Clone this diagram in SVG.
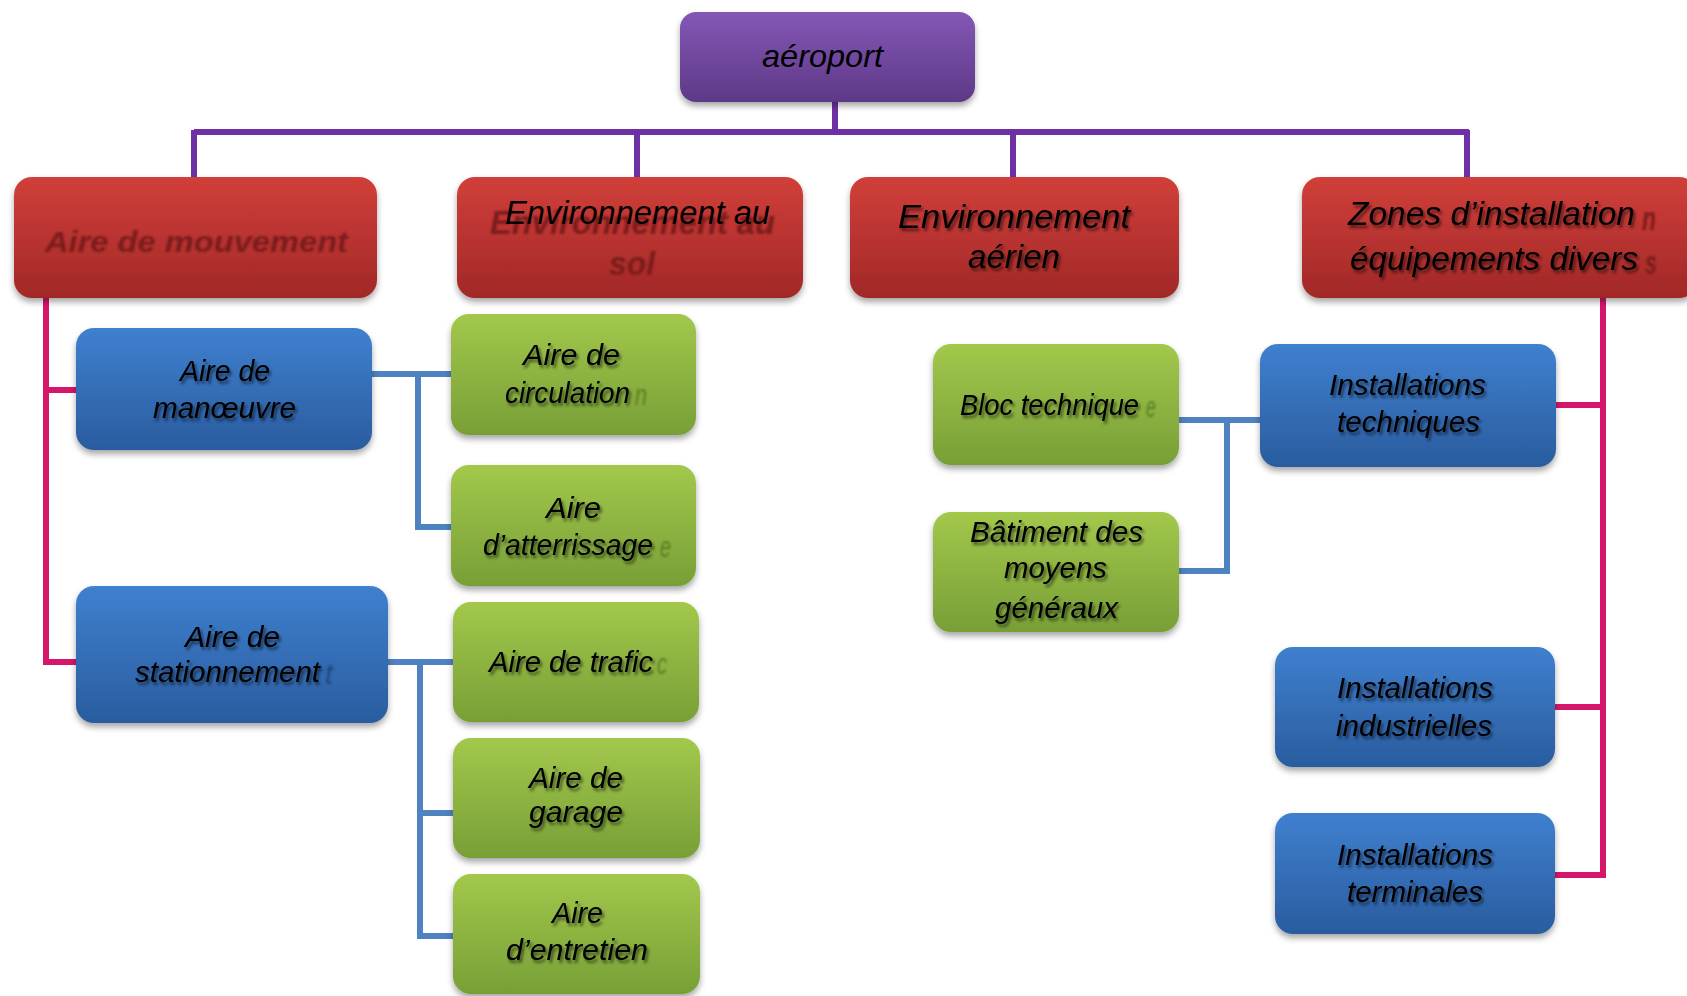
<svg xmlns="http://www.w3.org/2000/svg" width="1687" height="996" viewBox="0 0 1687 996">
<defs>
<linearGradient id="gPurple" x1="0" y1="0" x2="0" y2="1"><stop offset="0" stop-color="#8358b4"/><stop offset="1" stop-color="#5d3888"/></linearGradient>
<linearGradient id="gRed" x1="0" y1="0" x2="0" y2="1"><stop offset="0" stop-color="#d13f3a"/><stop offset="1" stop-color="#a12827"/></linearGradient>
<linearGradient id="gBlue" x1="0" y1="0" x2="0" y2="1"><stop offset="0" stop-color="#3f80cf"/><stop offset="1" stop-color="#2a5c9f"/></linearGradient>
<linearGradient id="gGreen" x1="0" y1="0" x2="0" y2="1"><stop offset="0" stop-color="#a2c84c"/><stop offset="1" stop-color="#789f36"/></linearGradient>
<filter id="boxShadow" x="-10%" y="-10%" width="120%" height="130%"><feDropShadow dx="0" dy="4" stdDeviation="3" flood-color="#000" flood-opacity="0.35"/></filter>
<filter id="txtShadow" x="-10%" y="-30%" width="120%" height="160%"><feDropShadow dx="2" dy="3" stdDeviation="1.5" flood-color="#000" flood-opacity="0.55"/></filter>
<filter id="ghostBlur" x="-20%" y="-30%" width="140%" height="160%"><feGaussianBlur stdDeviation="1.3"/></filter>
<style>
.box{filter:url(#boxShadow);}
.purple{fill:url(#gPurple);}
.red{fill:url(#gRed);}
.blue{fill:url(#gBlue);}
.green{fill:url(#gGreen);}
.t{font-family:"Liberation Sans",Arial,sans-serif;font-style:italic;fill:#000;}
.sh{filter:url(#txtShadow);}
.big{font-size:33px;}
.mid{font-size:30px;}
.ghostR{font-family:"Liberation Sans",Arial,sans-serif;font-style:italic;font-weight:bold;fill:#7a1c1c;filter:url(#ghostBlur);}
.ghostG{font-family:"Liberation Sans",Arial,sans-serif;font-style:italic;fill:#4e6b1e;opacity:0.75;filter:url(#ghostBlur);font-size:30px;}
.ghostB{font-family:"Liberation Sans",Arial,sans-serif;font-style:italic;fill:#1b3d6e;opacity:0.75;filter:url(#ghostBlur);font-size:30px;}
.cPurple{stroke:#6f30a6;stroke-width:6;fill:none;}
.cBlue{stroke:#4f82c0;stroke-width:6;fill:none;}
.cPink{stroke:#d5166b;stroke-width:6;fill:none;}
</style>
</defs>
<rect width="1687" height="996" fill="#ffffff"/>

<g id="connectors">
<path class="cPurple" d="M835 100 V132 M194 132 H1469 M194 130 V180 M637 130 V180 M1013 130 V180 M1467 130 V180"/>
<path class="cPink" d="M46 296 V662 H78 M46 390 H78"/>
<path class="cPink" d="M1603 296 V875 H1553 M1603 405 H1553 M1603 707 H1553"/>
<path class="cBlue" d="M370 374 H453 M418 374 V527 H453"/>
<path class="cBlue" d="M386 662 H455 M420 662 V936 H455 M420 813 H455"/>
<path class="cBlue" d="M1177 420 H1262 M1227 420 V571 H1177"/>
</g>

<g id="node-aeroport">
<rect class="box purple" x="680" y="12" width="295" height="90" rx="16"/>
<text class="t" x="762" y="67" font-size="32" textLength="121" lengthAdjust="spacingAndGlyphs">aéroport</text>
</g>

<g id="node-aire-mouvement">
<rect class="box red" x="14" y="177" width="363" height="121" rx="18"/>
<text class="ghostR" x="45" y="252" font-size="30" textLength="303" lengthAdjust="spacingAndGlyphs">Aire de mouvement</text>
</g>

<g id="node-env-sol">
<rect class="box red" x="457" y="177" width="346" height="121" rx="18"/>
<text class="ghostR" font-size="33"><tspan x="490" y="234" textLength="285" lengthAdjust="spacingAndGlyphs">Environnement au</tspan><tspan x="609" y="275" textLength="46" lengthAdjust="spacingAndGlyphs">sol</tspan></text>
<text class="t big" x="505" y="224" textLength="265" lengthAdjust="spacingAndGlyphs">Environnement au</text>
</g>

<g id="node-env-aerien">
<rect class="box red" x="850" y="177" width="329" height="121" rx="18"/>
<text class="t big sh"><tspan x="898" y="228" textLength="232" lengthAdjust="spacingAndGlyphs">Environnement</tspan><tspan x="968" y="268" textLength="92" lengthAdjust="spacingAndGlyphs">aérien</tspan></text>
</g>

<g id="node-zones">
<rect class="box red" x="1302" y="177" width="395" height="121" rx="18"/>
<text class="ghostR" font-size="33"><tspan x="1642" y="230" textLength="14" lengthAdjust="spacingAndGlyphs">n</tspan><tspan x="1645" y="274" textLength="12" lengthAdjust="spacingAndGlyphs">s</tspan></text>
<text class="t big sh"><tspan x="1348" y="225" textLength="287" lengthAdjust="spacingAndGlyphs">Zones d’installation</tspan><tspan x="1350" y="270" textLength="288" lengthAdjust="spacingAndGlyphs">équipements divers</tspan></text>
</g>

<g id="node-aire-manoeuvre">
<rect class="box blue" x="76" y="328" width="296" height="122" rx="18"/>
<text class="t mid sh"><tspan x="180" y="381" textLength="90" lengthAdjust="spacingAndGlyphs">Aire de</tspan><tspan x="153" y="418" textLength="143" lengthAdjust="spacingAndGlyphs">manœuvre</tspan></text>
</g>

<g id="node-aire-circulation">
<rect class="box green" x="451" y="314" width="245" height="121" rx="18"/>
<text class="ghostG" x="635" y="405" textLength="12" lengthAdjust="spacingAndGlyphs">n</text>
<text class="t mid sh"><tspan x="523" y="365" textLength="97" lengthAdjust="spacingAndGlyphs">Aire de</tspan><tspan x="505" y="403" textLength="125" lengthAdjust="spacingAndGlyphs">circulation</tspan></text>
</g>

<g id="node-aire-atterrissage">
<rect class="box green" x="451" y="465" width="245" height="121" rx="18"/>
<text class="ghostG" x="660" y="557" textLength="11" lengthAdjust="spacingAndGlyphs">e</text>
<text class="t mid sh"><tspan x="546" y="518" textLength="55" lengthAdjust="spacingAndGlyphs">Aire</tspan><tspan x="483" y="555" textLength="170" lengthAdjust="spacingAndGlyphs">d’atterrissage</tspan></text>
</g>

<g id="node-aire-stationnement">
<rect class="box blue" x="76" y="586" width="312" height="137" rx="18"/>
<text class="ghostB" x="325" y="684" textLength="8" lengthAdjust="spacingAndGlyphs">t</text>
<text class="t mid sh"><tspan x="185" y="647" textLength="95" lengthAdjust="spacingAndGlyphs">Aire de</tspan><tspan x="135" y="682" textLength="185" lengthAdjust="spacingAndGlyphs">stationnement</tspan></text>
</g>

<g id="node-aire-trafic">
<rect class="box green" x="453" y="602" width="246" height="120" rx="18"/>
<text class="ghostG" x="657" y="674" textLength="10" lengthAdjust="spacingAndGlyphs">c</text>
<text class="t mid sh" x="489" y="672" textLength="164" lengthAdjust="spacingAndGlyphs">Aire de trafic</text>
</g>

<g id="node-aire-garage">
<rect class="box green" x="453" y="738" width="247" height="120" rx="18"/>
<text class="t mid sh"><tspan x="529" y="788" textLength="94" lengthAdjust="spacingAndGlyphs">Aire de</tspan><tspan x="529" y="822" textLength="94" lengthAdjust="spacingAndGlyphs">garage</tspan></text>
</g>

<g id="node-aire-entretien">
<rect class="box green" x="453" y="874" width="247" height="120" rx="18"/>
<text class="t mid sh"><tspan x="552" y="923" textLength="51" lengthAdjust="spacingAndGlyphs">Aire</tspan><tspan x="506" y="960" textLength="142" lengthAdjust="spacingAndGlyphs">d’entretien</tspan></text>
</g>

<g id="node-bloc-technique">
<rect class="box green" x="933" y="344" width="246" height="121" rx="18"/>
<text class="ghostG" x="1146" y="417" textLength="10" lengthAdjust="spacingAndGlyphs">e</text>
<text class="t mid sh" x="960" y="415" textLength="179" lengthAdjust="spacingAndGlyphs">Bloc technique</text>
</g>

<g id="node-batiment">
<rect class="box green" x="933" y="512" width="246" height="120" rx="18"/>
<text class="t mid sh"><tspan x="970" y="542" textLength="173" lengthAdjust="spacingAndGlyphs">Bâtiment des</tspan><tspan x="1004" y="578" textLength="103" lengthAdjust="spacingAndGlyphs">moyens</tspan><tspan x="995" y="618" textLength="123" lengthAdjust="spacingAndGlyphs">généraux</tspan></text>
</g>

<g id="node-inst-techniques">
<rect class="box blue" x="1260" y="344" width="296" height="123" rx="18"/>
<text class="t mid sh"><tspan x="1329" y="395" textLength="157" lengthAdjust="spacingAndGlyphs">Installations</tspan><tspan x="1337" y="432" textLength="143" lengthAdjust="spacingAndGlyphs">techniques</tspan></text>
</g>

<g id="node-inst-industrielles">
<rect class="box blue" x="1275" y="647" width="280" height="120" rx="18"/>
<text class="t mid sh"><tspan x="1337" y="698" textLength="156" lengthAdjust="spacingAndGlyphs">Installations</tspan><tspan x="1336" y="736" textLength="156" lengthAdjust="spacingAndGlyphs">industrielles</tspan></text>
</g>

<g id="node-inst-terminales">
<rect class="box blue" x="1275" y="813" width="280" height="121" rx="18"/>
<text class="t mid sh"><tspan x="1337" y="865" textLength="156" lengthAdjust="spacingAndGlyphs">Installations</tspan><tspan x="1347" y="902" textLength="136" lengthAdjust="spacingAndGlyphs">terminales</tspan></text>
</g>
</svg>
